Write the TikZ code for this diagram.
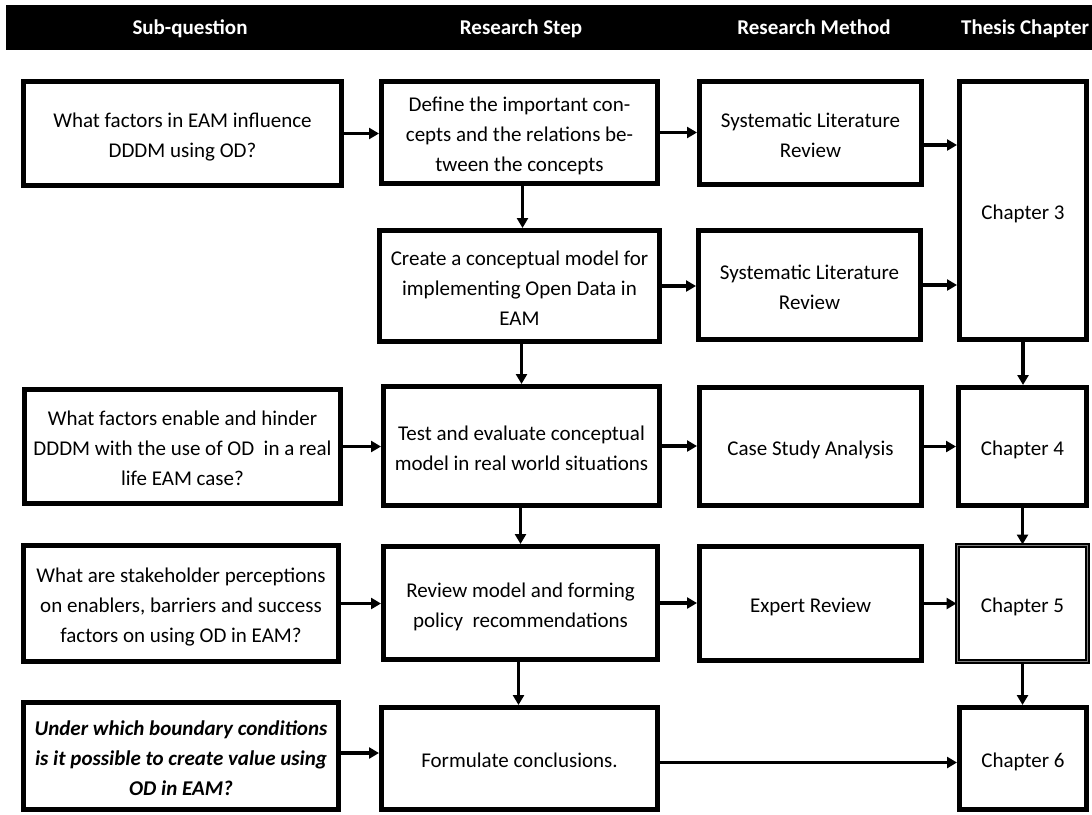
\documentclass[tikz,border=0pt]{standalone}
\usepackage{fontspec}
\setmainfont{Carlito}
\usetikzlibrary{arrows.meta}
\newcommand{\boxtext}[1]{\raisebox{-3pt}[\height][\depth]{\begin{tabular}{@{}c@{}}#1\end{tabular}}}
\begin{document}
\begin{tikzpicture}[x=1pt,y=-1pt,
  box/.style={draw=black, line width=5pt, fill=white, inner sep=0pt,
    font=\fontsize{21}{30}\selectfont, text=black},
  dbox/.style={box, line width=2pt, double=gray, double distance=1.3pt},
  arr/.style={line width=3.2pt, -{Triangle[length=10pt,width=11pt]}},
  hdr/.style={text=white, font=\bfseries\fontsize{21}{24}\selectfont, inner sep=0pt, anchor=base}]
\useasboundingbox (0,0) rectangle (1092,814);
% header bar
\fill[black] (6,5) rectangle (1092,50);
\node[hdr] (h1) at (190,34) {Sub-question};
\node[hdr] (h2) at (521,34) {Research Step};
\node[hdr] (h3) at (814,34) {Research Method};
\node[hdr, anchor=base west] (h4) at (961,34) {Thesis Chapter};
% column 1: sub-questions
\node[box, minimum width=318, minimum height=104] (q1) at (182.5,133.5)
  {\boxtext{What factors in EAM influence\\DDDM using OD?}};
\node[box, minimum width=316, minimum height=114] (q3) at (182.5,446.5)
  {\boxtext{What factors enable and hinder\\DDDM with the use of OD\ \ in a real\\life EAM case?}};
\node[box, minimum width=315, minimum height=116] (q4) at (181,603.5)
  {\boxtext{What are stakeholder perceptions\\on enablers, barriers and success\\factors on using OD in EAM?}};
\node[box, minimum width=315, minimum height=107, font=\bfseries\itshape\fontsize{21}{30}\selectfont] (q5) at (181,756)
  {\boxtext{Under which boundary conditions\\is it possible to create value using\\OD in EAM?}};
% column 2: research steps
\node[box, minimum width=276, minimum height=102] (s1) at (519.5,132.5)
  {\boxtext{Define the important con-\\cepts and the relations be-\\tween the concepts}};
\node[box, minimum width=280, minimum height=111] (s2) at (519.5,286)
  {\boxtext{Create a conceptual model for\\implementing Open Data in\\EAM}};
\node[box, minimum width=276, minimum height=119] (s3) at (521.5,446)
  {\boxtext{Test and evaluate conceptual\\model in real world situations}};
\node[box, minimum width=274, minimum height=113] (s4) at (520.5,603)
  {\boxtext{Review model and forming\\policy\ \ recommendations}};
\node[box, minimum width=276, minimum height=102] (s5) at (519.5,758.5)
  {\boxtext{Formulate conclusions.}};
% column 3: research methods
\node[box, minimum width=222, minimum height=103] (m1) at (810.5,133)
  {\boxtext{Systematic Literature\\Review}};
\node[box, minimum width=222, minimum height=109] (m2) at (809.5,285)
  {\boxtext{Systematic Literature\\Review}};
\node[box, minimum width=222, minimum height=118] (m3) at (810.5,446.5)
  {\boxtext{Case Study Analysis}};
\node[box, minimum width=222, minimum height=114] (m4) at (810.5,603.5)
  {\boxtext{Expert Review}};
% column 4: chapters
\node[box, minimum width=127, minimum height=258] (c3) at (1023,210.5) {\boxtext{Chapter 3}};
\node[box, minimum width=128, minimum height=118] (c4) at (1022.5,446.5) {\boxtext{Chapter 4}};
\node[dbox, minimum width=130, minimum height=116] (c5) at (1022.5,603.5) {\boxtext{Chapter 5}};
\node[box, minimum width=127, minimum height=102] (c6) at (1023,758.5) {\boxtext{Chapter 6}};
% horizontal arrows
\draw[arr] (q1.east) -- (q1.east -| s1.west);
\draw[arr] (s1.east) -- (s1.east -| m1.west);
\draw[arr] ([yshift=-12pt]m1.east) -- ([yshift=-12pt]m1.east -| c3.west);
\draw[arr] (s2.east) -- (s2.east -| m2.west);
\draw[arr] (m2.east) -- (m2.east -| c3.west);
\draw[arr] (q3.east) -- (q3.east -| s3.west);
\draw[arr] (s3.east) -- (s3.east -| m3.west);
\draw[arr] (m3.east) -- (m3.east -| c4.west);
\draw[arr] (q4.east) -- (q4.east -| s4.west);
\draw[arr] (s4.east) -- (s4.east -| m4.west);
\draw[arr] (m4.east) -- (m4.east -| c5.west);
\draw[arr] ([yshift=3pt]q5.east) -- ([yshift=3pt]q5.east -| s5.west);
\draw[arr] ([yshift=-4pt]s5.east) -- ([yshift=-4pt]s5.east -| c6.west);
% vertical arrows
\draw[arr] ([xshift=3pt]s1.south) -- ([xshift=3pt]s1.south |- s2.north);
\draw[arr] ([xshift=2pt]s2.south) -- ([xshift=2pt]s2.south |- s3.north);
\draw[arr] ([xshift=-1pt]s3.south) -- ([xshift=-1pt]s3.south |- s4.north);
\draw[arr] ([xshift=-2pt]s4.south) -- ([xshift=-2pt]s4.south |- s5.north);
\draw[arr] (c3.south) -- (c3.south |- c4.north);
\draw[arr] (c4.south) -- (c4.south |- c5.north);
\draw[arr] (c5.south) -- (c5.south |- c6.north);
\end{tikzpicture}
\end{document}
